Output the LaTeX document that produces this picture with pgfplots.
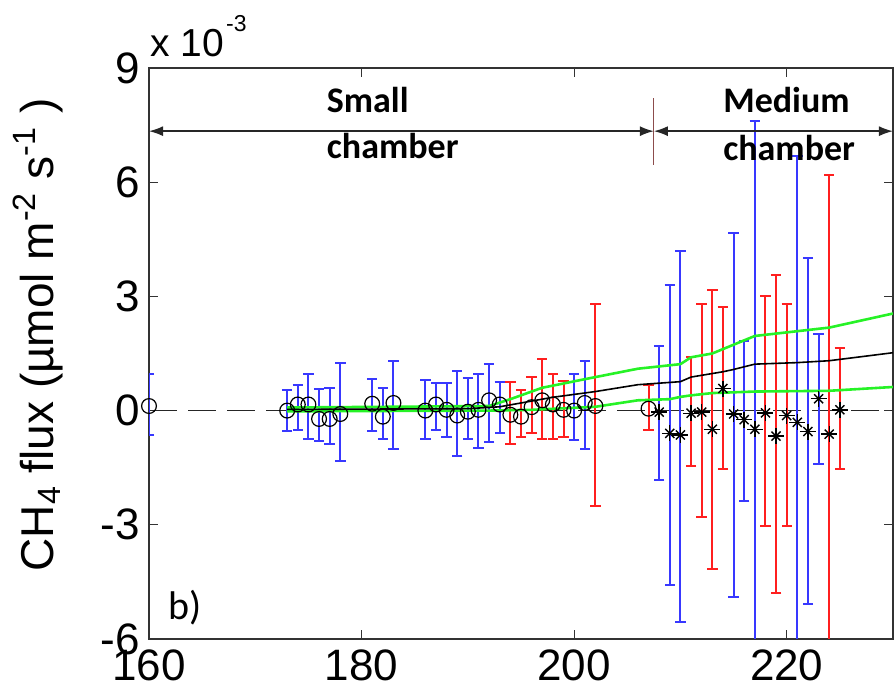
\documentclass[border=0pt]{standalone}
\usepackage{fontspec}
\setmainfont{Liberation Sans}
\newfontfamily\calib{Carlito}
\usepackage{pgfplots}
\pgfplotsset{compat=1.18}
\usepackage{pgfplotstable}
\usetikzlibrary{arrows.meta}

\definecolor{ebblue}{rgb}{0.22,0.22,1}
\definecolor{ebred}{rgb}{1,0.12,0.12}
\definecolor{fitgreen}{rgb}{0.15,0.95,0.15}
\definecolor{divider}{rgb}{0.55,0.3,0.3}

% flux in units of 1e-3 umol m-2 s-1; hi/lo are the error bar ends
\pgfplotstableread{
x   y     hi    lo
160  0.12 0.95 -0.65
173  0.00 0.55 -0.53
174  0.16 0.68 -0.50
175  0.16 0.95 -0.74
176 -0.22 0.58 -0.80
177 -0.22 0.60 -0.87
178 -0.09 1.26 -1.33
181  0.18 0.84 -0.53
182 -0.16 0.60 -0.74
183  0.20 1.31 -1.00
186  0.00 0.80 -0.74
187  0.16 0.73 -0.50
188  0.02 0.73 -0.69
189 -0.13 1.05 -1.20
190 -0.03 0.86 -0.74
191  0.02 0.95 -0.98
192  0.27 1.22 -0.82
193  0.16 0.75 -0.60
200  0.00 0.95 -0.78
201  0.20 1.31 -1.00
}\smallblue

\pgfplotstableread{
x   y     hi    lo
194 -0.11 0.75 -0.89
195 -0.16 0.55 -0.69
196  0.09 0.89 -0.60
197  0.27 1.35 -0.74
198  0.16 0.95 -0.74
199  0.02 0.78 -0.69
202  0.12 2.80 -2.50
207  0.05 0.68 -0.52
}\smallred

\pgfplotstableread{
x   y     hi    lo
208 -0.04 1.69 -1.82
209 -0.60 3.29 -4.58
210 -0.64 4.20 -5.56
215 -0.09 4.67 -4.90
216 -0.24 1.82 -2.38
217 -0.49 7.62 -9.00
221 -0.31 6.68 -9.00
222 -0.55 4.02 -5.07
223  0.31 2.02 -1.40
}\medblue

\pgfplotstableread{
x   y     hi    lo
211 -0.07 1.41 -1.46
212 -0.04 2.80 -2.80
213 -0.49 3.17 -4.16
214  0.58 2.71 -1.53
218 -0.06 3.00 -3.04
219 -0.67 3.56 -4.80
220 -0.13 2.80 -3.04
224 -0.62 6.20 -9.00
225  0.02 1.65 -1.53
}\medred

\pgfplotsset{
  ebars/.style={draw=none, mark=none, forget plot,
    error bars/.cd, y dir=both, y explicit,
    error bar style={draw=#1, line width=1pt, solid},
    error mark options={draw=#1, rotate=90, mark size=2.6pt, line width=1pt}},
  circ/.style={only marks, mark=o, mark size=3.7pt,
    mark options={draw=black, fill=none, line width=0.6pt}},
  starA/.style={only marks, mark=+, mark size=4pt,
    mark options={draw=black, line width=0.7pt}},
  starB/.style={only marks, mark=x, mark size=3.2pt,
    mark options={draw=black, line width=0.7pt}},
}

\begin{document}
\begin{tikzpicture}
\begin{axis}[
  scale only axis, width=372pt, height=285.5pt,
  xmin=160, xmax=230, ymin=-6, ymax=9,
  xtick={160,180,200,220}, ytick={-6,-3,0,3,6,9},
  tick align=inside, major tick length=4.5pt,
  tick style={black!80, line width=0.6pt},
  axis line style={black!80, line width=0.9pt},
  ticklabel style={font=\fontsize{22}{26}\selectfont, inner sep=0pt},
  xticklabel style={yshift=-5pt},
  yticklabel style={xshift=-4.5pt},
  /pgf/number format/assume math mode=true,
]
% zero reference
\addplot[black!85, line width=0.9pt, dash pattern=on 14pt off 5.5pt, forget plot]
  coordinates {(160,0) (230,0)};

% error bars
\addplot[ebars=ebblue] table[x=x, y=y,
  y error plus expr=\thisrow{hi}-\thisrow{y},
  y error minus expr=\thisrow{y}-\thisrow{lo}] {\smallblue};
\addplot[ebars=ebred] table[x=x, y=y,
  y error plus expr=\thisrow{hi}-\thisrow{y},
  y error minus expr=\thisrow{y}-\thisrow{lo}] {\smallred};
\addplot[ebars=ebblue] table[x=x, y=y,
  y error plus expr=\thisrow{hi}-\thisrow{y},
  y error minus expr=\thisrow{y}-\thisrow{lo}] {\medblue};
\addplot[ebars=ebred] table[x=x, y=y,
  y error plus expr=\thisrow{hi}-\thisrow{y},
  y error minus expr=\thisrow{y}-\thisrow{lo}] {\medred};

% cumulative mean and its bounds
\addplot[fitgreen, line width=1.3pt] coordinates {
  (173,0.08) (192,0.12) (194,0.30) (197,0.60) (202,0.88) (206,1.10)
  (210,1.22) (211,1.40) (213,1.50) (215,1.73) (217,1.96) (224,2.18) (230,2.55)};
\addplot[fitgreen, line width=1.3pt] coordinates {
  (173,-0.02) (192,0.00) (196,0.02) (202,0.10) (206,0.27) (209,0.30)
  (210,0.36) (211,0.40) (213,0.46) (217,0.50) (224,0.52) (230,0.62)};
\addplot[black, line width=0.8pt] coordinates {
  (173,0.03) (190,0.05) (193,0.10) (195,0.20) (198,0.35) (202,0.50)
  (206,0.68) (210,0.76) (211,0.88) (214,1.02) (215,1.08) (217,1.22)
  (221,1.26) (224,1.31) (230,1.52)};

% daily fluxes
\addplot[circ] table[x=x, y=y] {\smallblue};
\addplot[circ] table[x=x, y=y] {\smallred};
\addplot[starA] table[x=x, y=y] {\medblue};
\addplot[starB] table[x=x, y=y] {\medblue};
\addplot[starA] table[x=x, y=y] {\medred};
\addplot[starB] table[x=x, y=y] {\medred};

% chamber periods
\draw[black!85, line width=0.8pt, {Latex[length=7pt,width=5pt]}-{Latex[length=7pt,width=5pt]}]
  (axis cs:160,7.34) -- (axis cs:207.5,7.34);
\draw[black!85, line width=0.8pt, {Latex[length=7pt,width=5pt]}-{Latex[length=7pt,width=5pt]}]
  (axis cs:207.5,7.34) -- (axis cs:230,7.34);
\draw[divider, line width=0.6pt] (axis cs:207.5,8.2) -- (axis cs:207.5,6.45);
\node[anchor=base west, inner sep=0pt, font=\calib\bfseries\fontsize{18}{20}\selectfont]
  at (axis cs:176.7,7.82) {Small};
\node[anchor=base west, inner sep=0pt, font=\calib\bfseries\fontsize{18}{20}\selectfont]
  at (axis cs:176.7,6.63) {chamber};
\node[anchor=base west, inner sep=0pt, font=\calib\bfseries\fontsize{18}{20}\selectfont]
  at (axis cs:214.0,7.82) {Medium};
\node[anchor=base west, inner sep=0pt, font=\calib\bfseries\fontsize{18}{20}\selectfont]
  at (axis cs:214.0,6.58) {chamber};
\node[font=\calib\fontsize{20}{22}\selectfont] at (axis cs:163.4,-5.18) {b)};
\end{axis}

% exponent and axis title
\node[anchor=base west, inner sep=0pt, font=\fontsize{19.5}{22}\selectfont]
  at (0.5pt,291pt) {x 10\hspace{1pt}\raisebox{12.5pt}{\fontsize{11.5}{13}\selectfont -3}};
\node[rotate=90, inner sep=0pt, font=\fontsize{23}{27}\selectfont] at (-55.5pt,152pt)
  {CH\textsubscript{4} flux (µmol m\textsuperscript{-2} s\textsuperscript{-1} )};

\pgfresetboundingbox
\path[use as bounding box] (-74.5pt,-25pt) rectangle (373pt,319.5pt);
\end{tikzpicture}
\end{document}
